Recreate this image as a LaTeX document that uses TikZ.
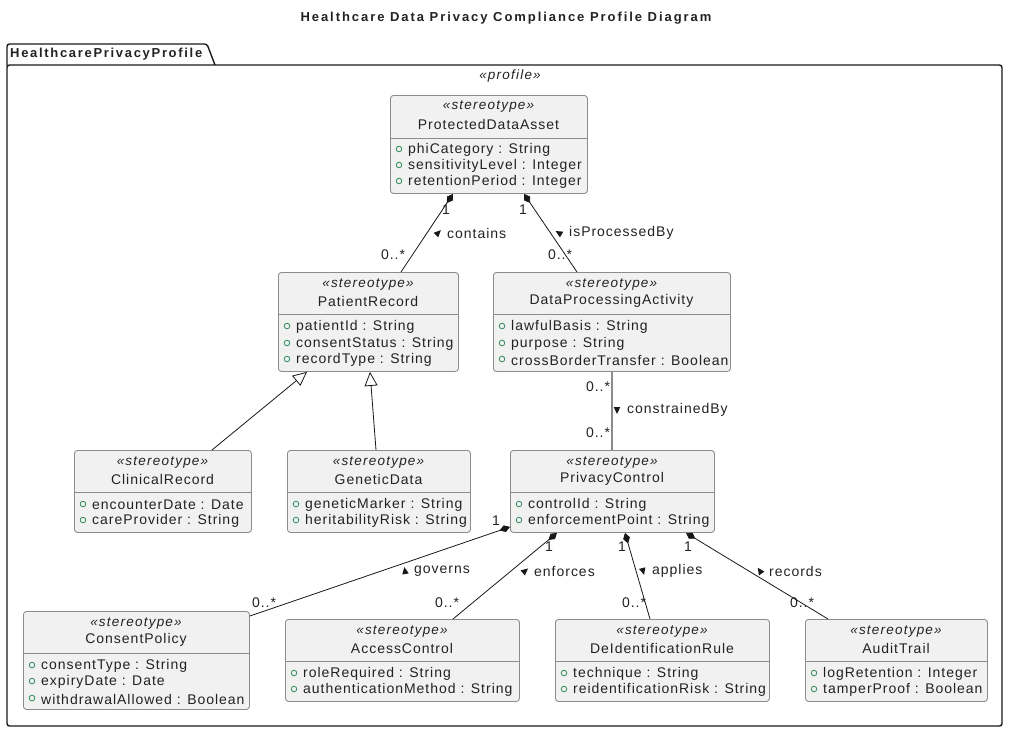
\documentclass[tikz,border=0pt]{standalone}
\usepackage{fontspec}
\setmainfont[LetterSpace=7]{Liberation Sans}
\newfontfamily\spacedfont[LetterSpace=13]{Liberation Sans}
\newfontfamily\titlefont[LetterSpace=15]{Liberation Sans}
\newfontfamily\stereofont[LetterSpace=9]{Liberation Sans}
\usetikzlibrary{arrows.meta,calc}
\definecolor{boxfill}{HTML}{F1F1F1}
\definecolor{boxline}{HTML}{8C8C8C}
\definecolor{txt}{HTML}{222222}
\definecolor{attrc}{HTML}{2A8A55}
\definecolor{edgec}{HTML}{181818}
\newcommand{\attrline}[4]{%
  \draw[attrc, line width=0.8pt] (#2+9,#3) circle (2.8pt);
  \node[attrtext] (#1) at (#2+18,#3+1) {#4};}
\newcommand{\labtri}[3]{%
  \fill[edgec, shift={(#1,#2)}, rotate=#3] (4pt,0) -- (-3pt,3.3pt) -- (-3pt,-3.3pt) -- cycle;}
\begin{document}
\begin{tikzpicture}[x=1pt,y=-1pt,
  cls/.style={draw=boxline, fill=boxfill, rounded corners=3pt, line width=0.9pt, inner sep=0pt, anchor=north west},
  sepline/.style={draw=boxline, line width=0.9pt},
  stereo/.style={font=\stereofont\fontsize{13.5}{15}\selectfont\itshape, text=txt, inner sep=0pt},
  cname/.style={font=\fontsize{14}{16}\selectfont, text=txt, inner sep=0pt},
  attrtext/.style={font=\fontsize{14}{16}\selectfont, text=txt, inner sep=0pt, anchor=west},
  mult/.style={font=\fontsize{14}{16}\selectfont, text=txt, inner sep=0pt},
  elabel/.style={font=\fontsize{14}{16}\selectfont, text=txt, inner sep=0pt, anchor=west},
  assoc/.style={draw=edgec, line width=0.8pt},
  compo/.style={assoc, {Diamond[length=11pt,width=7pt]}-},
  gener/.style={assoc, {Triangle[open,length=14pt,width=13pt,fill=white]}-}
]
\useasboundingbox (0,0) rectangle (1018,740);
% title
\node[font=\titlefont\bfseries\fontsize{13}{15}\selectfont, text=txt, inner sep=0pt] (title) at (506,18) {Healthcare Data Privacy Compliance Profile Diagram};
% package
\draw[edgec, line width=1.4pt, rounded corners=2.5pt] (7,66) -- (7,44) -- (207,44) -- (215,65);
\draw[edgec, line width=1.4pt, rounded corners=2.5pt] (7,65) rectangle (1002,726);
\node[font=\spacedfont\bfseries\fontsize{13}{15}\selectfont, text=txt, inner sep=0pt, anchor=west] (pkgname) at (10,54) {HealthcarePrivacyProfile};
\node[stereo] (profile) at (510,76) {«profile»};

% ProtectedDataAsset
\node[cls, minimum width=197pt, minimum height=98pt] (pda) at (390,95) {};
\draw[sepline] (390,138) -- (587,138);
\node[stereo] (pdas) at (488.5,107) {«stereotype»};
\node[cname] (pdan) at (488.5,124) {ProtectedDataAsset};
\attrline{pda1}{390}{149}{phiCategory : String}
\attrline{pda2}{390}{165}{sensitivityLevel : Integer}
\attrline{pda3}{390}{181}{retentionPeriod : Integer}

% PatientRecord
\node[cls, minimum width=180pt, minimum height=99pt] (pr) at (278,272) {};
\draw[sepline] (278,314) -- (458,314);
\node[stereo] (prs) at (368,285) {«stereotype»};
\node[cname] (prn) at (368,301) {PatientRecord};
\attrline{pr1}{278}{326}{patientId : String}
\attrline{pr2}{278}{343}{consentStatus : String}
\attrline{pr3}{278}{359}{recordType : String}

% DataProcessingActivity
\node[cls, minimum width=237pt, minimum height=99pt] (dpa) at (493,272) {};
\draw[sepline] (493,314) -- (730,314);
\node[stereo] (dpas) at (611.5,285) {«stereotype»};
\node[cname] (dpan) at (611.5,301) {DataProcessingActivity};
\attrline{dpa1}{493}{326}{lawfulBasis : String}
\attrline{dpa2}{493}{343}{purpose : String}
\attrline{dpa3}{493}{359}{crossBorderTransfer : Boolean}

% ClinicalRecord
\node[cls, minimum width=177pt, minimum height=82pt] (cr) at (74,450) {};
\draw[sepline] (74,492) -- (251,492);
\node[stereo] (crs) at (162.5,463) {«stereotype»};
\node[cname] (crn) at (162.5,479) {ClinicalRecord};
\attrline{cr1}{74}{504}{encounterDate : Date}
\attrline{cr2}{74}{520}{careProvider : String}

% GeneticData
\node[cls, minimum width=183pt, minimum height=82pt] (gd) at (287,450) {};
\draw[sepline] (287,492) -- (470,492);
\node[stereo] (gds) at (378.5,463) {«stereotype»};
\node[cname] (gdn) at (378.5,479) {GeneticData};
\attrline{gd1}{287}{504}{geneticMarker : String}
\attrline{gd2}{287}{520}{heritabilityRisk : String}

% PrivacyControl
\node[cls, minimum width=204pt, minimum height=82pt] (pc) at (510,450) {};
\draw[sepline] (510,492) -- (714,492);
\node[stereo] (pcs) at (612,463) {«stereotype»};
\node[cname] (pcn) at (612,479) {PrivacyControl};
\attrline{pc1}{510}{504}{controlId : String}
\attrline{pc2}{510}{520}{enforcementPoint : String}

% ConsentPolicy
\node[cls, minimum width=226pt, minimum height=98pt] (cp) at (23,611) {};
\draw[sepline] (23,653) -- (249,653);
\node[stereo] (cps) at (136,624) {«stereotype»};
\node[cname] (cpn) at (136,640) {ConsentPolicy};
\attrline{cp1}{23}{665}{consentType : String}
\attrline{cp2}{23}{681}{expiryDate : Date}
\attrline{cp3}{23}{698}{withdrawalAllowed : Boolean}

% AccessControl
\node[cls, minimum width=234pt, minimum height=82pt] (ac) at (285,619) {};
\draw[sepline] (285,661) -- (519,661);
\node[stereo] (acs) at (402,632) {«stereotype»};
\node[cname] (acn) at (402,648) {AccessControl};
\attrline{ac1}{285}{673}{roleRequired : String}
\attrline{ac2}{285}{689}{authenticationMethod : String}

% DeIdentificationRule
\node[cls, minimum width=214pt, minimum height=82pt] (dr) at (555,619) {};
\draw[sepline] (555,661) -- (769,661);
\node[stereo] (drs) at (662,632) {«stereotype»};
\node[cname] (drn) at (662,648) {DeIdentificationRule};
\attrline{dr1}{555}{673}{technique : String}
\attrline{dr2}{555}{689}{reidentificationRisk : String}

% AuditTrail
\node[cls, minimum width=182pt, minimum height=82pt] (at) at (805,619) {};
\draw[sepline] (805,661) -- (987,661);
\node[stereo] (ats) at (896,632) {«stereotype»};
\node[cname] (atn) at (896,648) {AuditTrail};
\attrline{at1}{805}{673}{logRetention : Integer}
\attrline{at2}{805}{689}{tamperProof : Boolean}

% contains
\draw[compo] ($(pda.south west)+(63,0)$) -- ($(pr.north west)+(123,0)$);
\node[mult] (m1a) at (446,210) {1};
\node[mult] (m1b) at (393,255) {0..*};
\labtri{438}{233}{45}
\node[elabel] (l1) at (447,233) {contains};

% isProcessedBy
\draw[compo] ($(pda.south west)+(134,0)$) -- ($(dpa.north west)+(84,0)$);
\node[mult] (m2a) at (523,210) {1};
\node[mult] (m2b) at (560,255) {0..*};
\labtri{559}{233}{150}
\node[elabel] (l2) at (569,233) {isProcessedBy};

% generalizations
\draw[gener] ($(pr.south west)+(29,0)$) -- ($(cr.north west)+(138,0)$);
\draw[gener] ($(pr.south west)+(92,0)$) -- ($(gd.north west)+(89,0)$);

% constrainedBy
\draw[draw=boxline, line width=1.2pt] ($(dpa.south west)+(119,0)$) -- ($(pc.north west)+(102,0)$);
\node[mult] (m3a) at (598,387) {0..*};
\node[mult] (m3b) at (598,433) {0..*};
\labtri{617}{410}{270}
\node[elabel] (l3) at (627,410) {constrainedBy};

% governs
\draw[compo] ($(pc.south west)+(0,-6)$) -- ($(cp.north east)+(0,5)$);
\node[mult] (m4a) at (496,521) {1};
\node[mult] (m4b) at (264,603) {0..*};
\labtri{405}{571}{100}
\node[elabel] (l4) at (414,571) {governs};

% enforces
\draw[compo] ($(pc.south west)+(47,0)$) -- ($(ac.north west)+(168,0)$);
\node[mult] (m5a) at (549,547) {1};
\node[mult] (m5b) at (447,603) {0..*};
\labtri{525}{571}{40}
\node[elabel] (l5) at (534,571) {enforces};

% applies
\draw[compo] ($(pc.south west)+(115,0)$) -- ($(dr.north west)+(95,0)$);
\node[mult] (m6a) at (622,547) {1};
\node[mult] (m6b) at (634,603) {0..*};
\labtri{643}{571}{285}
\node[elabel] (l6) at (652,571) {applies};

% records
\draw[compo] ($(pc.south west)+(176,0)$) -- ($(at.north west)+(23,0)$);
\node[mult] (m7a) at (688,547) {1};
\node[mult] (m7b) at (802,603) {0..*};
\labtri{760}{571}{125}
\node[elabel] (l7) at (769,571) {records};
\end{tikzpicture}
\end{document}
